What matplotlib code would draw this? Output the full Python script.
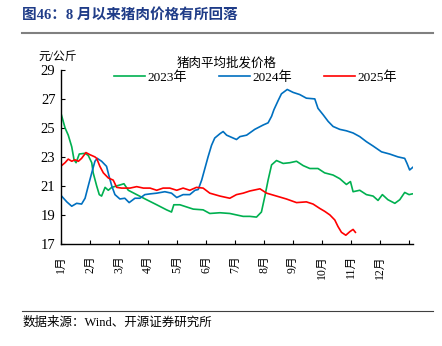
import matplotlib
matplotlib.use("Agg")
import matplotlib.pyplot as plt
from matplotlib.lines import Line2D

plt.rcParams['font.family'] = ['Liberation Serif', 'Noto Sans CJK SC', 'DejaVu Sans']

# x positions are in months since Jan 1 (0 = 1月)
x_2023 = [0.00, 0.14, 0.25, 0.37, 0.45, 0.52, 0.63, 0.83, 0.94, 1.06, 1.11, 1.23, 1.32, 1.40,
          1.52, 1.63, 1.75, 1.92, 2.09, 2.17, 2.32, 2.61, 2.95, 3.30, 3.64, 3.81, 3.89, 4.10,
          4.33, 4.56, 4.90, 5.13, 5.48, 5.82, 6.05, 6.28, 6.51, 6.74, 6.91, 7.03, 7.14, 7.26,
          7.43, 7.66, 7.89, 8.12, 8.35, 8.58, 8.86, 9.09, 9.38, 9.61, 9.84, 9.98, 10.07, 10.30,
          10.53, 10.76, 10.93, 11.08, 11.27, 11.51, 11.68, 11.85, 12.00, 12.11]
y_2023 = [26.0, 25.0, 24.5, 23.7, 22.8, 22.6, 23.2, 23.25, 23.1, 22.6, 21.9, 21.0, 20.4, 20.3,
          20.9, 20.7, 20.9, 21.0, 21.1, 21.15, 20.7, 20.4, 20.05, 19.7, 19.35, 19.2, 19.7, 19.7,
          19.55, 19.4, 19.35, 19.1, 19.15, 19.1, 19.0, 18.9, 18.9, 18.85, 19.2, 20.3, 21.4, 22.45,
          22.75, 22.55, 22.6, 22.7, 22.4, 22.2, 22.2, 21.9, 21.75, 21.5, 21.1, 21.3, 20.6, 20.7,
          20.4, 20.3, 20.0, 20.4, 20.05, 19.8, 20.05, 20.55, 20.4, 20.45]

x_2024 = [0.02, 0.20, 0.37, 0.54, 0.71, 0.83, 0.94, 1.06, 1.17, 1.25, 1.40, 1.57, 1.66, 1.75,
          1.86, 2.03, 2.20, 2.35, 2.55, 2.72, 2.89, 3.07, 3.30, 3.58, 3.81, 3.99, 4.21, 4.44,
          4.62, 4.73, 4.85, 4.96, 5.07, 5.19, 5.30, 5.48, 5.59, 5.71, 5.88, 6.05, 6.17, 6.40,
          6.68, 6.97, 7.14, 7.26, 7.34, 7.49, 7.60, 7.80, 8.00, 8.23, 8.46, 8.75, 8.86, 9.04,
          9.21, 9.38, 9.61, 9.84, 10.07, 10.30, 10.53, 10.76, 11.05, 11.33, 11.62, 11.85, 11.93,
          12.02, 12.14]
y_2024 = [20.3, 19.9, 19.6, 19.8, 19.75, 20.15, 21.0, 21.9, 22.7, 22.9, 22.7, 22.35, 21.65, 21.0,
          20.4, 20.1, 20.15, 19.85, 20.15, 20.15, 20.4, 20.45, 20.5, 20.6, 20.5, 20.2, 20.4, 20.4,
          20.7, 20.75, 21.4, 22.2, 23.0, 23.8, 24.3, 24.6, 24.75, 24.5, 24.35, 24.2, 24.4, 24.5,
          24.9, 25.2, 25.35, 25.8, 26.25, 26.9, 27.35, 27.65, 27.45, 27.3, 27.05, 27.0, 26.35, 25.9,
          25.45, 25.1, 24.9, 24.8, 24.65, 24.4, 24.05, 23.75, 23.35, 23.2, 23.0, 22.9, 22.55,
          22.1, 22.3]

x_2025 = [0.02, 0.14, 0.25, 0.37, 0.48, 0.60, 0.71, 0.86, 1.00, 1.17, 1.23, 1.34, 1.46, 1.63,
          1.80, 1.92, 2.09, 2.38, 2.61, 2.84, 3.07, 3.30, 3.52, 3.75, 3.99, 4.21, 4.44, 4.67,
          4.90, 5.13, 5.48, 5.82, 6.05, 6.28, 6.51, 6.86, 7.09, 7.43, 7.77, 8.12, 8.46, 8.69,
          8.92, 9.09, 9.27, 9.44, 9.55, 9.67, 9.82, 9.96, 10.07, 10.15]
y_2025 = [22.4, 22.6, 22.85, 22.7, 22.8, 22.7, 22.9, 23.3, 23.15, 23.0, 22.9, 22.35, 21.9, 21.55,
          21.4, 20.9, 20.85, 20.85, 20.95, 20.85, 20.85, 20.7, 20.85, 20.85, 20.7, 20.85, 20.7, 20.9,
          20.85, 20.5, 20.3, 20.15, 20.4, 20.5, 20.65, 20.8, 20.5, 20.3, 20.1, 19.85, 19.9, 19.75,
          19.45, 19.25, 19.0, 18.65, 18.2, 17.8, 17.6, 17.85, 18.0, 17.8]

month_labels = ['1月', '2月', '3月', '4月', '5月', '6月', '7月', '8月', '9月', '10月', '11月', '12月', '']
y_ticks = [17, 19, 21, 23, 25, 27, 29]

c23, c24, c25 = '#00b050', '#0070c0', '#ff0000'

fig = plt.figure(figsize=(4.42, 3.46), dpi=100)
ax = fig.add_axes([0.138, 0.295, 0.796, 0.503])

ax.plot(x_2023, y_2023, color=c23, lw=1.2)
ax.plot(x_2024, y_2024, color=c24, lw=1.2)
ax.plot(x_2025, y_2025, color=c25, lw=1.2)

ax.set_xlim(0, 12.13)
ax.set_ylim(17, 29)
ax.set_yticks(y_ticks)
ax.set_xticks(range(13))
ax.set_xticklabels(month_labels, rotation=90, fontsize=8.5)
ax.tick_params(axis='y', direction='in', labelsize=10.5, length=3, width=0.8, pad=4)
ax.tick_params(axis='x', direction='in', length=3, width=0.8, pad=8)
for s in ['top', 'right']:
    ax.spines[s].set_visible(False)
for s in ['left', 'bottom']:
    ax.spines[s].set_linewidth(1.0)

ax.set_title('猪肉平均批发价格', fontsize=9, pad=1, x=0.47)
ax.text(-0.01, 1.07, '元/公斤', transform=ax.transAxes, ha='center', va='center', fontsize=8.5)

handles = [Line2D([], [], color=c, lw=1.2) for c in (c23, c24, c25)]
ax.legend(handles, ['2023年', '2024年', '2025年'], loc='upper center', ncol=3,
          bbox_to_anchor=(0.554, 1.06), frameon=False, fontsize=9.5,
          handlelength=2.3, columnspacing=2.4, handletextpad=0.25)

fig.text(0.05, 0.956, '图46：8 月以来猪肉价格有所回落', fontsize=10.5, fontweight='bold',
         color='#1f3c88', ha='left', va='center')
fig.add_artist(Line2D([0.05, 0.98], [0.905, 0.905], color='#808080', lw=1.5))
fig.add_artist(Line2D([0.05, 0.98], [0.101, 0.101], color='#404040', lw=0.8))
fig.text(0.05, 0.066, '数据来源：Wind、开源证券研究所', fontsize=9, ha='left', va='center')

fig.savefig('out.png', dpi=100)
